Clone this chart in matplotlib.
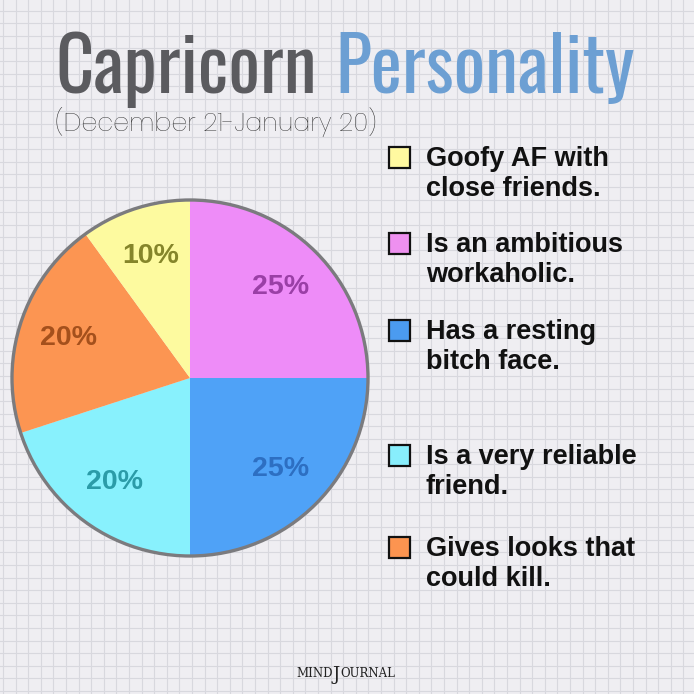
import numpy as np
import matplotlib.pyplot as plt
from matplotlib.patches import Circle, Rectangle

# data
shares = [25, 25, 20, 20, 10]
slice_colors = ['#ee8cf8', '#4fa2f7', '#88f1fd', '#fc9552', '#fdfa9f']
pct_colors = ['#9a3fa6', '#2d6fc2', '#2b9ca8', '#a4501c', '#85852a']

legend_colors = ['#fff9a0', '#ee90f0', '#4b9bf0', '#88eefc', '#fc9450']
legend_lines = [
    ('Goofy AF with', 'close friends.'),
    ('Is an ambitious', 'workaholic.'),
    ('Has a resting', 'bitch face.'),
    ('Is a very reliable', 'friend.'),
    ('Gives looks that', 'could kill.'),
]
legend_y = [158, 244, 331, 456, 548]

H = 694
def Y(y):
    return H - y

fig = plt.figure(figsize=(6.94, 6.94), dpi=100)
fig.patch.set_facecolor('#efeef2')
ax = fig.add_axes([0, 0, 1, 1])
ax.set_facecolor('#efeef2')

# graph paper background
for g in np.arange(3, H, 12.6):
    ax.axvline(g, color='#d8d8de', lw=0.8, zorder=0)
    ax.axhline(g, color='#d8d8de', lw=0.8, zorder=0)

# pie
cx, cy, r = 190, Y(378), 178
wedges, texts, autotexts = ax.pie(
    shares, colors=slice_colors, startangle=90, counterclock=False,
    center=(cx, cy), radius=r, autopct='%d%%', pctdistance=0.72,
    wedgeprops=dict(linewidth=0), textprops=dict(fontsize=20.5, fontweight='bold',
                                                 family='Liberation Sans'))
for t, c in zip(autotexts, pct_colors):
    t.set_color(c)
ax.add_patch(Circle((cx, cy), r, fill=False, ec='#7b7b7e', lw=2.4, zorder=5))

ax.set_xlim(0, H)
ax.set_ylim(0, H)
ax.set_aspect('auto')
ax.axis('off')

# title
ax.text(55, Y(93), 'Capricorn', fontsize=53.5, family='Oswald',
        color='#5b5b5f', ha='left', va='baseline')
ax.text(335, Y(93), 'Personality', fontsize=53.5, family='Oswald',
        color='#6c9fd3', ha='left', va='baseline')
ax.text(55, Y(122), '(December 21-January 20)', fontsize=18.3, family='Poppins',
        fontweight='light', color='#222222', ha='left', va='center')

# legend
for col, (l1, l2), y in zip(legend_colors, legend_lines, legend_y):
    ax.add_patch(Rectangle((389, Y(y) - 10), 21, 21, fc=col, ec='#111111', lw=1.6, zorder=4))
    ax.text(426, Y(y + 1), l1, fontsize=19.5, fontweight='bold', family='Liberation Sans',
            color='#111111', ha='left', va='center')
    ax.text(426, Y(y + 31), l2, fontsize=19.5, fontweight='bold', family='Liberation Sans',
            color='#111111', ha='left', va='center')

# footer logo
ax.text(333, Y(677), 'MIND', fontsize=8.5, family='DejaVu Serif',
        color='#222222', ha='right', va='baseline')
ax.text(336.5, Y(680), 'J', fontsize=13, family='DejaVu Serif',
        color='#222222', ha='center', va='baseline')
ax.text(340, Y(677), 'OURNAL', fontsize=8.5, family='DejaVu Serif',
        color='#222222', ha='left', va='baseline')

fig.savefig('out.png', dpi=100, facecolor=fig.get_facecolor())
